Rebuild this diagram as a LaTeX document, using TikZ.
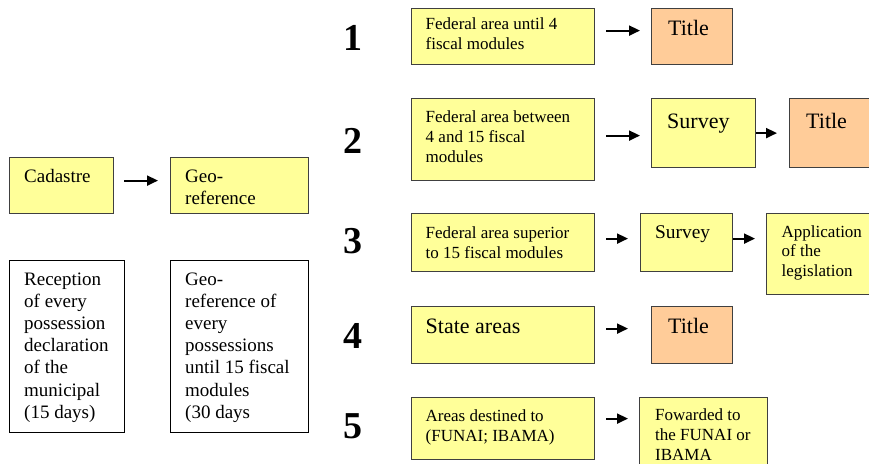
\documentclass[tikz,border=0pt]{standalone}
\usepackage{fontspec}
\setmainfont{Liberation Serif}
\usetikzlibrary{arrows.meta}
\definecolor{boxyellow}{HTML}{FFFF99}
\definecolor{boxorange}{HTML}{FFCC99}
\definecolor{boxline}{HTML}{404040}

\begin{document}
\begin{tikzpicture}[x=1pt, y=-1pt,
  box/.style={draw=boxline, line width=1.2pt, anchor=north west, inner sep=0pt},
  ybox/.style={box, fill=boxyellow},
  obox/.style={box, fill=boxorange},
  wbox/.style={box, draw=black, fill=white},
  txt/.style={anchor=base west, align=left, inner sep=0pt},
  lefttxt/.style={txt, font=\fontsize{19}{22.2}\selectfont},
  smalltxt/.style={txt, font=\fontsize{17}{20}\selectfont},
  bigtxt/.style={txt, font=\fontsize{22}{26}\selectfont},
  num/.style={anchor=base west, inner sep=0pt, font=\fontsize{38}{40}\selectfont\bfseries},
  arr/.style={line width=2pt, -{Triangle[length=11pt, width=10pt]}}]
\clip (0,0) rectangle (869,463);

% left part
% (text nodes sit on the baseline of their last line)
\node[ybox, minimum width=104pt, minimum height=56pt] (cad) at (9,157) {};
\node[ybox, minimum width=138pt, minimum height=56pt] (geo) at (170,157) {};
\node[wbox, minimum width=115pt, minimum height=172pt] (recep) at (9,260) {};
\node[wbox, minimum width=138pt, minimum height=172pt] (georef) at (170,260) {};
\node[lefttxt] (cad-t) at (24,182) {Cadastre};
\node[lefttxt] (geo-t) at (185,204.2) {Geo-\\reference};
\node[lefttxt] (recep-t) at (24,418.2) {Reception\\of every\\possession\\declaration\\of the\\municipal\\(15 days)};
\node[lefttxt] (georef-t) at (185,418.2) {Geo-\\reference of\\every\\possessions\\until 15 fiscal\\modules\\(30 days};
\draw[arr, shorten <=10pt, shorten >=12pt] ([yshift=5pt]cad.east) -- ([yshift=5pt]cad.east -| geo.west);

% numbers
\node[num] (n1) at (343,50) {1};
\node[num] (n2) at (343,153) {2};
\node[num] (n3) at (343,253) {3};
\node[num] (n4) at (343,348) {4};
\node[num] (n5) at (343,438) {5};

% row 1
\node[ybox, minimum width=183pt, minimum height=56pt] (fed1) at (411,8) {};
\node[obox, minimum width=81pt, minimum height=56pt] (tit1) at (651,8) {};
\node[smalltxt] (fed1-t) at (425.5,49) {Federal area until 4\\fiscal modules};
\node[bigtxt] (tit1-t) at (668,35) {Title};
\draw[arr, shorten <=11pt, shorten >=11pt] ([yshift=6pt]fed1.east) -- ([yshift=6pt]fed1.east -| tit1.west);

% row 2
\node[ybox, minimum width=183pt, minimum height=82pt] (fed2) at (411,98) {};
\node[ybox, minimum width=104pt, minimum height=69pt] (sur2) at (651,98) {};
\node[obox, minimum width=100pt, minimum height=69pt] (tit2) at (789,98) {};
\node[smalltxt] (fed2-t) at (425.5,162) {Federal area between\\4 and 15 fiscal\\modules};
\node[bigtxt] (sur2-t) at (667,128) {Survey};
\node[bigtxt] (tit2-t) at (806,128) {Title};
\draw[arr, shorten <=11pt, shorten >=11pt] ([yshift=4pt]fed2.east) -- ([yshift=4pt]fed2.east -| sur2.west);
\draw[arr, shorten >=12pt] (sur2.east) -- (tit2.west);

% row 3
\node[ybox, minimum width=183pt, minimum height=58pt] (fed3) at (411,213) {};
\node[ybox, minimum width=92pt, minimum height=58pt] (sur3) at (640,213) {};
\node[ybox, minimum width=120pt, minimum height=81pt] (app) at (766,213) {};
\node[smalltxt] (fed3-t) at (425.5,258) {Federal area superior\\to 15 fiscal modules};
\node[txt, font=\fontsize{19.4}{22}\selectfont] (sur3-t) at (655,238) {Survey};
\node[txt, font=\fontsize{17}{19.7}\selectfont] (app-t) at (781.5,276.4) {Application\\of the\\legislation};
\draw[arr, shorten <=11pt, shorten >=12pt] ([yshift=4pt]fed3.east) -- ([yshift=4pt]fed3.east -| sur3.west);
\draw[arr, shorten >=11pt] ([yshift=4pt]sur3.east) -- ([yshift=4pt]sur3.east -| app.west);

% row 4
\node[ybox, minimum width=183pt, minimum height=57pt] (fed4) at (411,306) {};
\node[obox, minimum width=81pt, minimum height=57pt] (tit4) at (651,306) {};
\node[bigtxt] (fed4-t) at (425.5,333) {State areas};
\node[bigtxt] (tit4-t) at (668,333) {Title};
\draw[arr, shorten <=11pt, shorten >=23pt] ([yshift=6.5pt]fed4.east) -- ([yshift=6.5pt]fed4.east -| tit4.west);

% row 5
\node[ybox, minimum width=183pt, minimum height=62pt] (fed5) at (411,397) {};
\node[ybox, minimum width=128pt, minimum height=90pt] (fwd) at (639,397) {};
\node[smalltxt] (fed5-t) at (425.5,441) {Areas destined to\\(FUNAI; IBAMA)};
\node[smalltxt] (fwd-t) at (655,460) {Fowarded to\\the FUNAI or\\IBAMA};
\draw[arr, shorten <=11pt, shorten >=11pt] ([yshift=10pt]fed5.east) -- ([yshift=10pt]fed5.east -| fwd.west);
\end{tikzpicture}
\end{document}
